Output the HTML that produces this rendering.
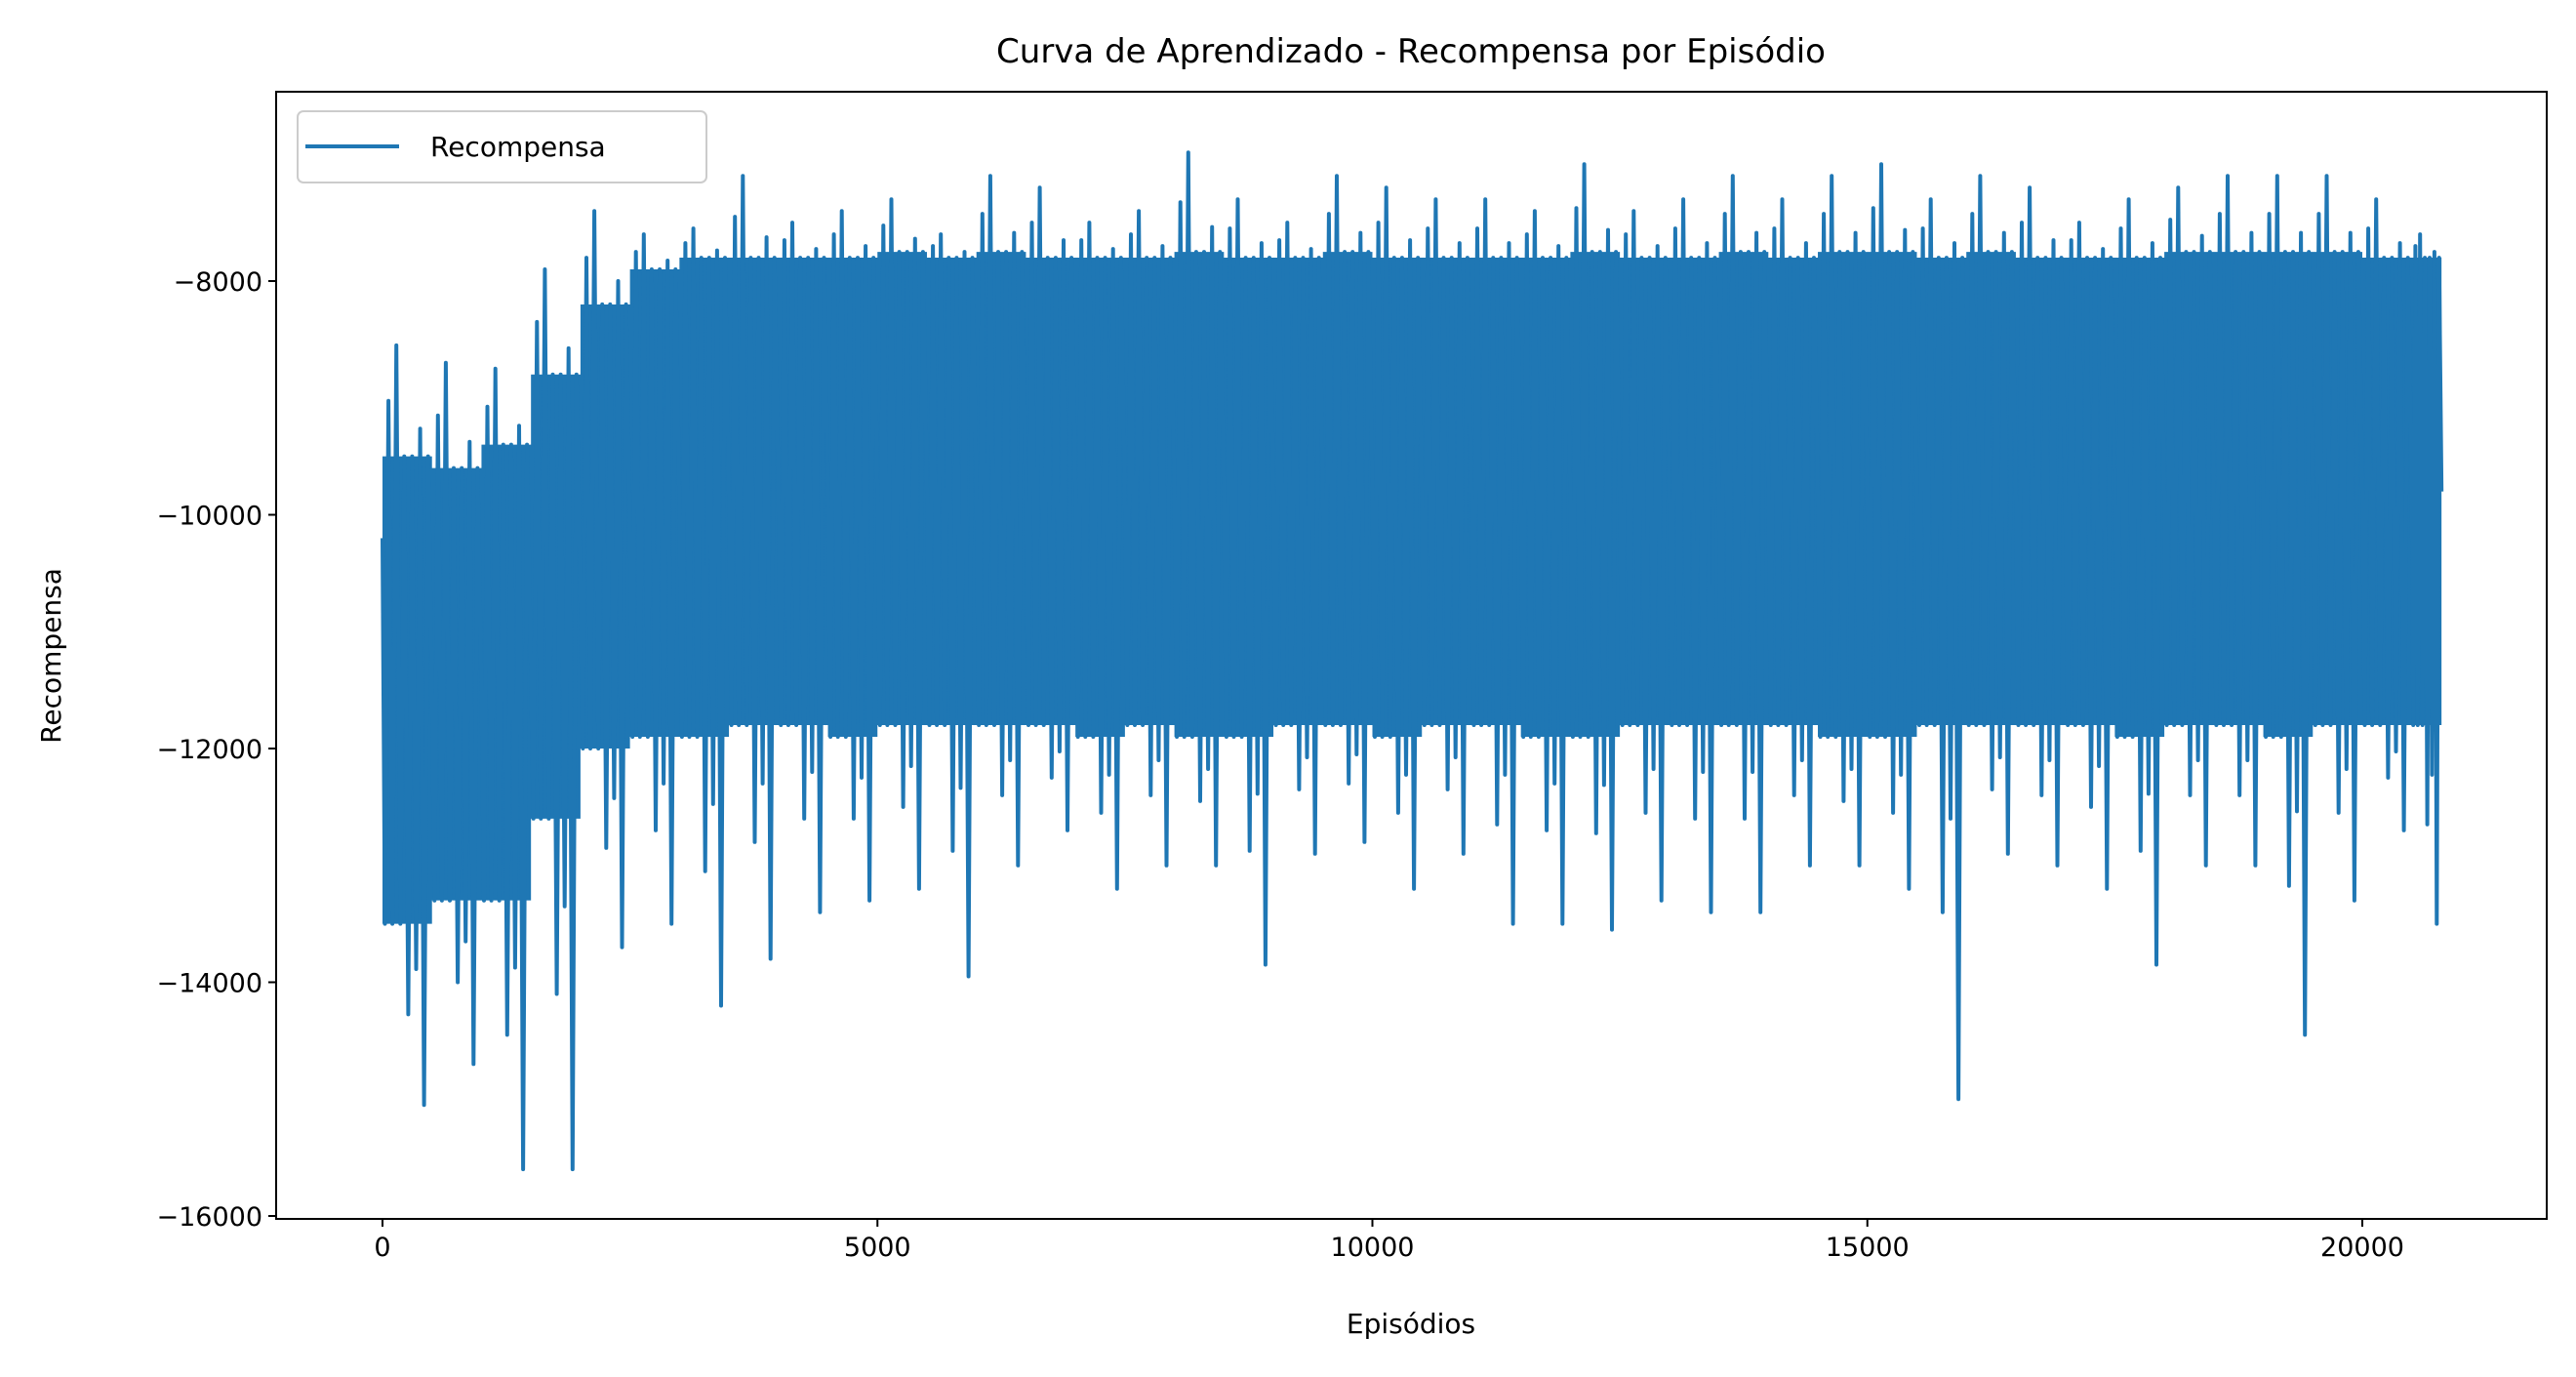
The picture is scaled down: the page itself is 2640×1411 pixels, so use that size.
<!DOCTYPE html>
<html><head><meta charset="utf-8"><style>
html,body{margin:0;padding:0;background:#fff}
svg{display:block;font-family:"DejaVu Sans","Liberation Sans",sans-serif}
</style></head><body>
<svg id="chart" width="2640" height="1411" viewBox="0 0 2640 1411">
<rect width="2640" height="1411" fill="#fff"/>
<text x="1446" y="64" font-size="34" text-anchor="middle" fill="#000">Curva de Aprendizado - Recompensa por Episódio</text>
<g id="plot"></g>
<g id="axes"></g>
<text x="1446" y="1366" font-size="28" text-anchor="middle">Episódios</text>
<text x="0" y="0" font-size="28" text-anchor="middle" transform="translate(62,672) rotate(-90)">Recompensa</text>
<g>
<rect x="305" y="114" width="419" height="73" rx="6" fill="#fff" fill-opacity="0.8" stroke="#ccc" stroke-width="2"/>
<line x1="313" y1="150" x2="409" y2="150" stroke="#1f77b4" stroke-width="4"/>
<text x="441" y="160" font-size="28">Recompensa</text>
</g>
</svg>
<script>
const binSize = 500;
const spikeHigh = [-8550,-8700,-8750,-7900,-7400,-7600,-7550,-7100,-7500,-7400,-7300,-7600,-7100,-7200,-7500,-7400,-6900,-7300,-7500,-7100,-7200,-7300,-7300,-7400,-7000,-7400,-7300,-7100,-7300,-7100,-7000,-7300,-7100,-7200,-7500,-7300,-7200,-7100,-7100,-7100,-7300,-7600];
const spikeLow = [-15050,-14700,-15600,-15600,-13700,-13500,-14200,-13800,-13400,-13300,-13200,-13950,-13000,-12700,-13200,-13000,-13000,-13850,-12900,-12800,-13200,-12900,-13500,-13500,-13550,-13300,-13400,-13400,-13000,-13000,-13200,-15000,-12900,-13000,-13200,-13850,-13000,-13000,-14450,-13300,-12700,-13500];
const coreHigh = [-9500,-9600,-9400,-8800,-8200,-7900,-7800,-7800,-7800,-7800,-7750,-7800,-7750,-7800,-7800,-7800,-7750,-7800,-7800,-7750,-7800,-7800,-7800,-7800,-7750,-7800,-7800,-7750,-7800,-7750,-7750,-7800,-7750,-7800,-7800,-7800,-7750,-7750,-7750,-7750,-7800,-7800];
const coreLow = [-13500,-13300,-13300,-12600,-12000,-11900,-11900,-11800,-11800,-11900,-11800,-11800,-11800,-11800,-11900,-11800,-11900,-11900,-11800,-11800,-11900,-11800,-11800,-11900,-11900,-11800,-11800,-11800,-11800,-11900,-11900,-11800,-11800,-11800,-11800,-11900,-11800,-11800,-11900,-11800,-11800,-11800];
const lastEpisode = 20800;
const xTicks = [0,5000,10000,15000,20000];
const yTicks = [-8000,-10000,-12000,-14000,-16000];

const NS="http://www.w3.org/2000/svg";
const X0=283,X1=2610,Y0=94,Y1=1249;
const xs=v=>392+(v/20000)*(2421-392);
const ys=v=>288+((-8000-v)/8000)*(1246-288);
const plotG=document.getElementById('plot'), axesG=document.getElementById('axes');
function mk(tag,attrs,parent){const e=document.createElementNS(NS,tag);for(const k in attrs)e.setAttribute(k,attrs[k]);parent.appendChild(e);return e;}

const nb=coreHigh.length;
let topPts=[],botPts=[];
for(let i=0;i<nb;i++){
  const a=i*binSize, b=Math.min((i+1)*binSize,lastEpisode);
  topPts.push(xs(a)+','+ys(coreHigh[i]), xs(b)+','+ys(coreHigh[i]));
}
for(let i=nb-1;i>=0;i--){
  const a=i*binSize, b=Math.min((i+1)*binSize,lastEpisode);
  botPts.push(xs(b)+','+ys(coreLow[i]), xs(a)+','+ys(coreLow[i]));
}
const band=mk('polygon',{points:topPts.concat(botPts).join(' '),fill:'#1f77b4'},plotG);



let d='M'+xs(0)+','+ys(-10200);
for(let i=0;i<nb;i++){
  const a=i*binSize, b=Math.min((i+1)*binSize,lastEpisode), w=b-a;
  const hi=spikeHigh[i], lo=spikeLow[i], ch=coreHigh[i], cl=coreLow[i];
  const mh=(hi+ch)/2, ml=(lo+cl)/2;
  const pts=[[0.05,cl],[0.12,mh],[0.2,cl],[0.28,hi],[0.36,cl],[0.44,ch],[0.52,ml],[0.6,ch],[0.68,(ml+cl)/2],[0.76,(mh+ch)/2],[0.84,lo],[0.92,ch],[1,(ch+cl)/2]];
  for(const p of pts) d+=' L'+xs(a+p[0]*w).toFixed(1)+','+ys(p[1]).toFixed(1);
}
const rewardLine=mk('path',{d:d,fill:'none',stroke:'#1f77b4','stroke-width':4,'stroke-linejoin':'round'},plotG);



const fr=mk('rect',{x:X0,y:Y0,width:X1-X0,height:Y1-Y0,fill:'none',stroke:'#000','stroke-width':2},axesG);


for(const t of xTicks){
  const x=xs(t);
  mk('line',{x1:x,y1:Y1,x2:x,y2:Y1+8,stroke:'#000','stroke-width':2},axesG);
  const tx=mk('text',{x:x,y:Y1+38,'font-size':27,'text-anchor':'middle'},axesG);
  tx.textContent=t;
  
  
}
for(const t of yTicks){
  const y=ys(t);
  mk('line',{x1:X0-8,y1:y,x2:X0,y2:y,stroke:'#000','stroke-width':2},axesG);
  const tx=mk('text',{x:X0-14,y:y+10,'font-size':27,'text-anchor':'end'},axesG);
  tx.textContent='\u2212'+Math.abs(t);
  
  
}
</script>
</body></html>
